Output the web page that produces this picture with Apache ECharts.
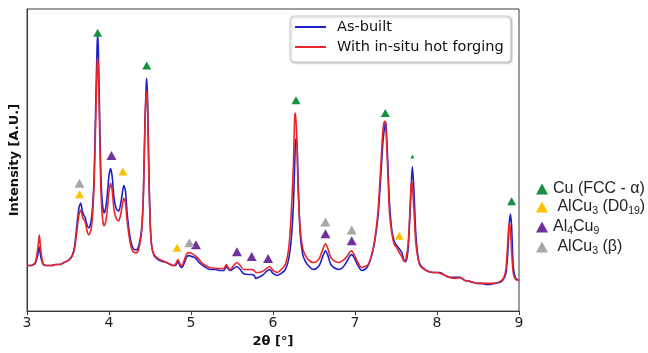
<!DOCTYPE html>
<html>
<head>
<meta charset="utf-8">
<script src="https://cdn.jsdelivr.net/npm/echarts@6/dist/echarts.min.js"></script>
<style>
  html, body { margin: 0; padding: 0; background: #fff; }
  #chart { width: 648px; height: 353px; }
</style>
</head>
<body>
<div id="chart"></div>
<script>
// Diffraction angle 2θ (degrees)
const twoTheta = [
  3.00, 3.05, 3.10, 3.13, 3.15, 3.17, 3.20, 3.25, 3.30, 3.35,
  3.40, 3.45, 3.50, 3.55, 3.58, 3.61, 3.635, 3.655, 3.68, 3.71,
  3.735, 3.755, 3.78, 3.80, 3.82, 3.84, 3.855, 3.862, 3.87, 3.885,
  3.90, 3.92, 3.94, 3.96, 3.98, 4.00, 4.02, 4.04, 4.06, 4.09,
  4.12, 4.15, 4.18, 4.20, 4.22, 4.25, 4.28, 4.31, 4.34, 4.37,
  4.40, 4.42, 4.44, 4.455, 4.46, 4.47, 4.485, 4.50, 4.52, 4.55,
  4.60, 4.65, 4.70, 4.75, 4.78, 4.81, 4.84, 4.87, 4.89, 4.92,
  4.95, 4.98, 5.01, 5.05, 5.09, 5.13, 5.18, 5.23, 5.30, 5.35,
  5.40, 5.43, 5.46, 5.48, 5.52, 5.56, 5.60, 5.64, 5.70, 5.74,
  5.77, 5.79, 5.82, 5.87, 5.92, 5.96, 6.00, 6.05, 6.10, 6.15,
  6.19, 6.22, 6.25, 6.265, 6.275, 6.29, 6.305, 6.33, 6.36, 6.39,
  6.43, 6.49, 6.53, 6.57, 6.61, 6.64, 6.67, 6.70, 6.74, 6.80,
  6.85, 6.90, 6.94, 6.96, 6.99, 7.03, 7.08, 7.12, 7.16, 7.20,
  7.24, 7.28, 7.31, 7.34, 7.36, 7.37, 7.38, 7.40, 7.42, 7.45,
  7.48, 7.51, 7.54, 7.57, 7.60, 7.62, 7.65, 7.68, 7.69, 7.70,
  7.72, 7.74, 7.77, 7.80, 7.87, 7.95, 8.00, 8.04, 8.10, 8.16,
  8.22, 8.28, 8.34, 8.40, 8.44, 8.50, 8.55, 8.60, 8.65, 8.70,
  8.77, 8.81, 8.84, 8.86, 8.87, 8.88, 8.895, 8.91, 8.93, 8.96,
  9.00
];

// Intensity (arbitrary units), as-built sample
const asBuilt = [
  46, 46, 48, 56, 65, 54, 47, 46, 46, 47,
  47, 49, 51, 56, 65, 88, 105, 109, 99, 94,
  86, 84, 90, 105, 140, 215, 268, 279, 265, 200,
  140, 108, 99, 104, 118, 137, 144, 135, 115, 103,
  101, 112, 127, 122, 100, 78, 66, 62, 62, 68,
  85, 120, 195, 230, 235, 215, 150, 95, 66, 56,
  52, 50, 49, 47, 46, 46, 50, 45, 44, 49,
  55, 56, 55, 54, 50, 47, 44, 42, 42, 41,
  41, 45, 42, 41, 43, 45, 42, 38, 37, 37,
  36, 33, 34, 36, 40, 42, 38, 36, 38, 42,
  52, 70, 110, 150, 172, 175, 135, 80, 58, 51,
  46, 42, 43, 47, 56, 61, 56, 48, 44, 42,
  44, 50, 56, 57, 54, 47, 41, 42, 46, 55,
  70, 95, 130, 170, 186, 191, 187, 150, 110, 81,
  70, 66, 63, 59, 51, 50, 65, 115, 135, 146,
  120, 80, 54, 46, 41, 39, 39, 39, 36, 34,
  34, 34, 31, 30, 29, 28, 28, 27, 27, 28,
  29, 32, 38, 55, 70, 88, 98, 85, 45, 33,
  31
];

// Intensity (arbitrary units), sample built with in-situ hot forging
const hotForged = [
  46, 46, 49, 62, 77, 60, 47, 46, 46, 47,
  47, 49, 51, 55, 63, 82, 98, 102, 94, 90,
  80, 77, 82, 97, 132, 200, 248, 256, 245, 185,
  125, 94, 86, 90, 103, 121, 129, 121, 103, 93,
  91, 101, 114, 110, 92, 73, 62, 59, 59, 65,
  82, 120, 195, 220, 222, 205, 140, 92, 66, 57,
  53, 51, 49, 47, 46, 47, 52, 47, 46, 52,
  58, 59, 58, 56, 53, 49, 46, 44, 43, 43,
  43, 47, 43, 42, 46, 49, 46, 42, 42, 42,
  41, 39, 39, 40, 43, 45, 41, 39, 42, 47,
  62, 95, 150, 198, 200, 175, 125, 85, 64, 57,
  52, 49, 50, 54, 63, 68, 63, 55, 51, 49,
  51, 55, 60, 61, 57, 50, 44, 45, 47, 56,
  72, 100, 140, 182, 192, 190, 180, 140, 100, 78,
  67, 64, 59, 55, 50, 52, 70, 120, 131, 128,
  100, 70, 52, 45, 41, 39, 39, 38, 36, 34,
  33, 34, 31, 30, 29, 28, 28, 28, 28, 28,
  30, 33, 42, 65, 80, 89, 82, 60, 38, 32,
  31
];

// Phase identification markers: [2θ, marker height]
const cuPeaks = [[3.862, 281], [4.46, 248], [6.28, 213], [7.37, 200], [8.91, 111]];
const cuMinorPeaks = [[7.70, 156]];
const alCu3D019Peaks = [[3.64, 118], [4.17, 141], [4.83, 64], [7.54, 76]];
const al4Cu9Peaks = [[4.03, 157], [5.06, 67], [5.56, 60], [5.74, 55], [5.94, 53], [6.64, 78], [6.96, 71]];
const alCu3BetaPeaks = [[3.64, 129], [4.98, 69], [6.64, 90], [6.96, 82]];

const seriesNames = ['As-built', 'With in-situ hot forging'];
const phaseNames = ['Cu (FCC - α)', 'AlCu3 (D019)', 'Al4Cu9', 'AlCu3 (β)'];
const xTicks = [3, 4, 5, 6, 7, 8, 9];

const phaseLabels = {
  'Cu (FCC - α)': '{n|Cu (FCC - α)}',
  'AlCu3 (D019)': '{n| AlCu}{s|3}{n| (D0}{s|19}{n|)}',
  'Al4Cu9': '{n|Al}{s|4}{n|Cu}{s|9}',
  'AlCu3 (β)': '{n| AlCu}{s|3}{n| (β)}'
};

const zip = (xs, ys) => xs.map((x, i) => [x, ys[i]]);

const phaseColors = ['#12923f', '#ffc000', '#7030a0', '#a8a8a8'];

function markerSeries(name, data, color, size) {
  return {
    name: name,
    type: 'scatter',
    data: data,
    symbol: 'triangle',
    symbolSize: size,
    itemStyle: { color: color, opacity: 1 },
    z: 5,
    silent: true
  };
}

const chart = echarts.init(document.getElementById('chart'), null, { renderer: 'canvas' });

chart.setOption({
  animation: false,
  backgroundColor: '#ffffff',
  grid: {
    left: 27, right: 129, top: 9, bottom: 39,
    show: true, borderColor: '#3a3a3a', borderWidth: 1, backgroundColor: 'transparent'
  },
  xAxis: {
    type: 'value',
    min: xTicks[0],
    max: xTicks[xTicks.length - 1],
    interval: 1,
    name: '2θ [°]',
    nameLocation: 'middle',
    nameGap: 23,
    nameTextStyle: { fontFamily: 'DejaVu Sans', fontWeight: 'bold', fontSize: 13, color: '#111' },
    axisLine: { show: true, onZero: false, lineStyle: { color: '#3a3a3a', width: 1 } },
    axisTick: { show: true, length: 4, lineStyle: { color: '#3a3a3a' } },
    axisLabel: { fontFamily: 'DejaVu Sans', fontSize: 14, color: '#222', margin: 5 },
    splitLine: { show: false }
  },
  yAxis: {
    type: 'value',
    min: 0,
    max: 305,
    name: 'Intensity [A.U.]',
    nameLocation: 'middle',
    nameGap: 6,
    nameTextStyle: { fontFamily: 'DejaVu Sans', fontWeight: 'bold', fontSize: 13, color: '#111' },
    axisLine: { show: true, lineStyle: { color: '#3a3a3a', width: 1 } },
    axisTick: { show: false },
    axisLabel: { show: false },
    splitLine: { show: false }
  },
  legend: [
    {
      data: seriesNames,
      orient: 'vertical',
      left: 290,
      top: 16,
      padding: [3, 7, 7, 5],
      icon: 'rect',
      itemWidth: 31,
      itemHeight: 2,
      itemGap: 4,
      backgroundColor: '#ffffff',
      borderColor: '#cfcfcf',
      borderWidth: 1,
      borderRadius: 4,
      shadowColor: 'rgba(0,0,0,0.25)',
      shadowBlur: 2,
      shadowOffsetX: 1,
      shadowOffsetY: 1,
      textStyle: { fontFamily: 'DejaVu Sans', fontSize: 14.5, lineHeight: 16, color: '#111', padding: [0, 0, 0, 6] },
      selectedMode: false
    },
    {
      data: phaseNames,
      orient: 'vertical',
      left: 536,
      top: 181,
      padding: 0,
      icon: 'triangle',
      itemWidth: 12,
      itemHeight: 11,
      itemGap: 2,
      selectedMode: false,
      formatter: name => phaseLabels[name],
      textStyle: {
        rich: {
          n: { fontFamily: 'Liberation Sans', fontSize: 16, color: '#222', lineHeight: 20 },
          s: { fontFamily: 'Liberation Sans', fontSize: 10.5, color: '#222', lineHeight: 12, verticalAlign: 'bottom' }
        }
      }
    }
  ],
  series: [
    {
      name: seriesNames[0],
      type: 'line',
      data: zip(twoTheta, asBuilt),
      symbol: 'none',
      smooth: 0.2,
      lineStyle: { color: '#1c22c8', width: 1.6 },
      itemStyle: { color: '#1c22c8' },
      z: 2
    },
    {
      name: seriesNames[1],
      type: 'line',
      data: zip(twoTheta, hotForged),
      symbol: 'none',
      smooth: 0.2,
      lineStyle: { color: '#e8262b', width: 1.6 },
      itemStyle: { color: '#e8262b' },
      z: 3
    },
    markerSeries(phaseNames[0], cuPeaks, phaseColors[0], [9, 8]),
    markerSeries(phaseNames[0], cuMinorPeaks, phaseColors[0], [4, 4]),
    markerSeries(phaseNames[1], alCu3D019Peaks, phaseColors[1], [9, 8]),
    markerSeries(phaseNames[2], al4Cu9Peaks, phaseColors[2], [10, 9]),
    markerSeries(phaseNames[3], alCu3BetaPeaks, phaseColors[3], [10, 9])
  ]
});
</script>
</body>
</html>
